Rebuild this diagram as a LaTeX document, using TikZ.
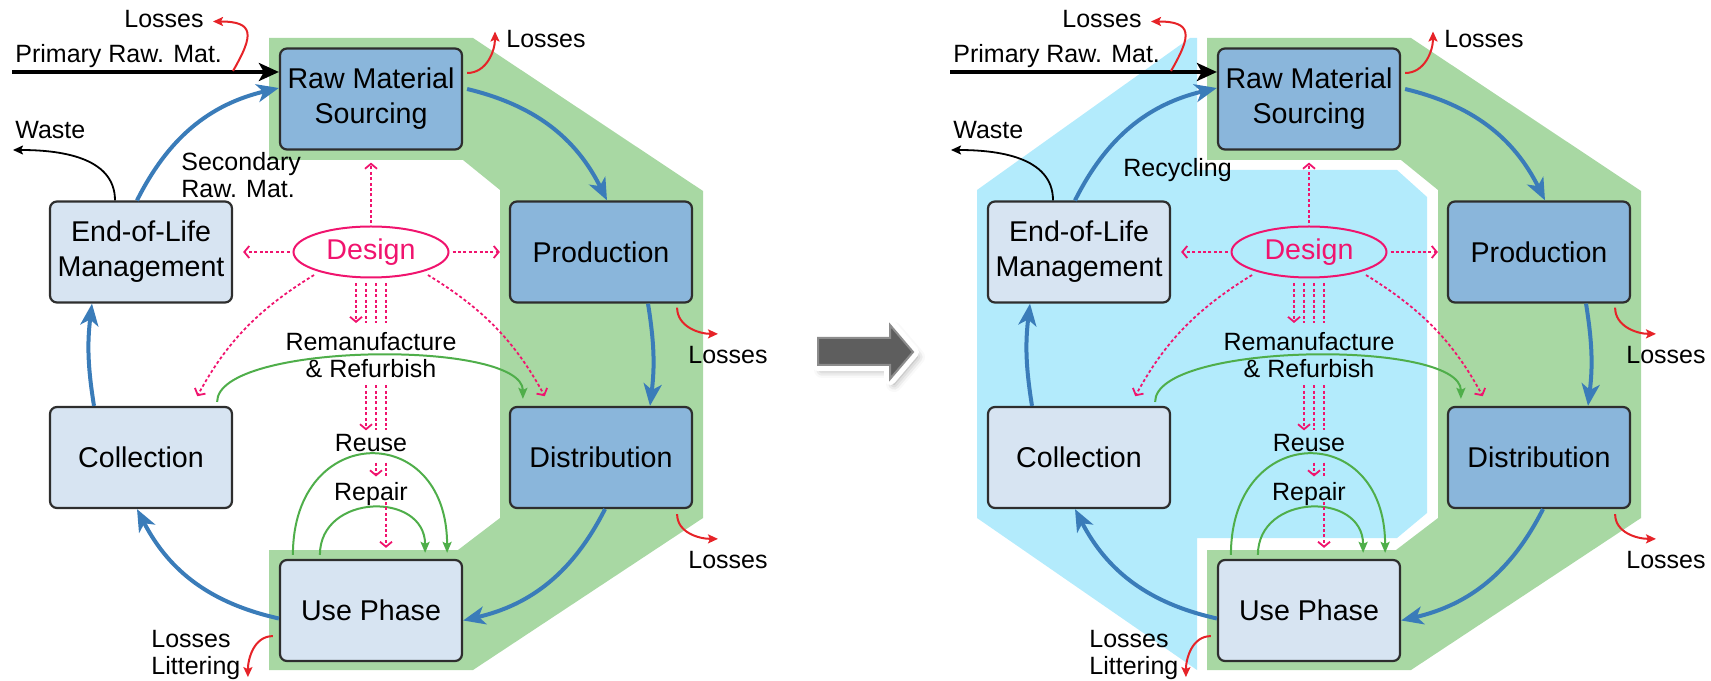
\documentclass[tikz,border=0pt]{standalone}
\usepackage{fontspec}
\setmainfont{Liberation Sans}
\usepackage{xcolor}
\usetikzlibrary{arrows.meta}
\usetikzlibrary{shapes.geometric, shadows.blur}

\definecolor{ringgreen}{HTML}{A8D8A3}
\definecolor{loopcyan}{HTML}{B3EBFC}
\definecolor{stageblue}{HTML}{8AB6DB}
\definecolor{stagelight}{HTML}{D7E4F2}
\definecolor{edgegray}{HTML}{2E2E2E}
\definecolor{flowblue}{HTML}{3A7CB9}
\definecolor{lossred}{HTML}{E62328}
\definecolor{loopgreen}{HTML}{4FAE4A}
\definecolor{designpink}{HTML}{F0146E}
\definecolor{arrowgray}{HTML}{5E5E5E}
\definecolor{arrowrim}{HTML}{8C8C8C}

\newcommand{\stagefont}{\fontsize{14.3}{17.5}\selectfont}
\newcommand{\tagfont}{\fontsize{12.5}{13.5}\selectfont}

\begin{document}
\begin{tikzpicture}[x=0.5pt, y=0.5pt]
	\tikzset{
		stage/.style={rectangle, draw=edgegray, line width=1.1pt, rounded corners=3.5pt, minimum width=91pt, minimum height=50.5pt, align=center, font=\stagefont},
		makestage/.style={stage, fill=stageblue},
		usestage/.style={stage, fill=stagelight},
		designnode/.style={ellipse, draw=designpink, line width=1pt, text=designpink, minimum width=77.5pt, minimum height=25.5pt, inner sep=0pt, font=\stagefont},
		tag/.style={inner sep=1pt, align=center, font=\tagfont},
		flow/.style={draw=flowblue, line width=2pt, -{Stealth[length=11pt, width=9pt, inset=3pt]}},
		feed/.style={draw=black, line width=2pt, -{Stealth[length=10pt, width=9pt, inset=2.5pt]}},
		spill/.style={draw=black, line width=0.9pt, -{Stealth[length=5pt, width=4.5pt, inset=1pt]}},
		loss/.style={draw=lossred, line width=1pt, -{Stealth[length=5pt, width=4.5pt, inset=1pt]}},
		reloop/.style={draw=loopgreen, line width=1pt, -{Stealth[length=5.5pt, width=4.5pt, inset=1pt]}},
		hintline/.style={draw=designpink, line width=0.9pt, dash pattern=on 1.5pt off 1.2pt},
		hint/.style={hintline, -{Straight Barb[length=2.5pt, width=6pt]}}
	}
	\useasboundingbox (0,0) rectangle (1711,680);

	% Circular part behind the right-hand cycle
	\fill[loopcyan] (1190,642) -- (1197,642) -- (1197,510) -- (1397,510) -- (1427,483) -- (1427,167)
		-- (1397,142) -- (1197,142) -- (1197,10) -- (977,162) -- (977,490) -- cycle;

	% Transition arrow between both cycles
	\path[fill=arrowgray, draw=arrowrim, line width=1pt,
		preaction={draw=white, line width=6pt, line join=round,
			blur shadow={shadow xshift=2pt, shadow yshift=-2.5pt, shadow blur radius=4pt}}]
		(818,342) -- (890,342) -- (890,355) -- (913,328) -- (890,301) -- (890,315) -- (818,315) -- cycle;

	\foreach \p/\dx in {a/0, b/938} {
	\begin{scope}[shift={(\dx,0)}]
		% Linear part of the life cycle
		\fill[ringgreen] (269,642) -- (473,642) -- (703,489) -- (703,162) -- (473,10) -- (269,10) -- (269,130)
			-- (458,130) -- (500,162) -- (500,490) -- (463,520) -- (269,520) -- cycle;

		% Life cycle stages
		\node[makestage] (raw\p) at (371,581) {Raw Material\\Sourcing};
		\node[makestage] (prod\p) at (601,428) {Production};
		\node[makestage] (dist\p) at (601,222.5) {Distribution};
		\node[usestage] (use\p) at (371,69.5) {Use Phase};
		\node[usestage] (coll\p) at (141,222.5) {Collection};
		\node[usestage] (eol\p) at (141,428) {End-of-Life\\Management};

		% Design and its strategies
		\node[designnode] (design\p) at (371,428) {Design};
		\node[tag, anchor=north] (reman\p) at (371,350) {Remanufacture\\\& Refurbish};
		\node[tag, anchor=base] (reuse\p) at (371,228) {Reuse};
		\node[tag, anchor=base] (repair\p) at (371,180) {Repair};

		% Material flows
		\draw[flow] ([xshift=-2pt]eol\p.north) to[bend left=25] ([yshift=5.5pt]raw\p.west);
		\draw[flow] ([xshift=2pt, yshift=5pt]raw\p.east) to[bend left=25] ([xshift=3pt]prod\p.north);
		\draw[flow] ([xshift=23.5pt]prod\p.south) to[bend left=8] ([xshift=24.5pt]dist\p.north);
		\draw[flow] ([xshift=2pt]dist\p.south) to[bend left=25] ([yshift=-5pt]use\p.east);
		\draw[flow] ([yshift=-4pt]use\p.west) to[bend left=25] ([xshift=-2pt]coll\p.south);
		\draw[flow] ([xshift=-23.5pt]coll\p.north) to[bend left=8] ([xshift=-24.5pt]eol\p.south);

		% Inner loops
		\draw[reloop] ([xshift=-8pt, yshift=2pt]coll\p.north east) to[out=90, in=90, looseness=0.5] ([xshift=7pt, yshift=3.5pt]dist\p.north west);
		\draw[reloop] ([xshift=7pt, yshift=2pt]use\p.north west) to[out=90, in=90, looseness=2.2] ([xshift=-8pt, yshift=3pt]use\p.north east);
		\draw[reloop] ([xshift=20.5pt, yshift=2pt]use\p.north west) to[out=90, in=90, looseness=1.5] ([xshift=-19pt, yshift=3pt]use\p.north east);

		% Inputs, losses and waste
		\node[tag, anchor=base west] (primary\p) at (13,617) {Primary Raw. Mat.};
		\coordinate (mine\p) at (12,608);
		\draw[feed] (mine\p) -- (mine\p -| raw\p.west);

		\node[tag, anchor=east] (lossin\p) at (206,660.5) {Losses};
		\coordinate (leak\p) at (233,609);
		\draw[loss] (leak\p) to[out=60, in=0, looseness=2] ([xshift=3.5pt, yshift=-1pt]lossin\p.east);

		\node[tag, anchor=west] (lossraw\p) at (504,640.5) {Losses};
		\draw[loss] ([xshift=2pt, yshift=13pt]raw\p.east) to[out=0, in=-90] ([xshift=-4.5pt, yshift=4pt]lossraw\p.west);

		\node[tag] (lossprod\p) at (728,325) {Losses};
		\draw[loss] ([xshift=-8pt, yshift=-2pt]prod\p.south east) to[out=-90, in=180] ([xshift=-5pt, yshift=5pt]lossprod\p.north);

		\node[tag] (lossdist\p) at (728,120) {Losses};
		\draw[loss] ([xshift=-8pt, yshift=-2.5pt]dist\p.south east) to[out=-90, in=180] ([xshift=-5pt, yshift=5pt]lossdist\p.north);

		\node[tag, anchor=north west, align=left] (lossuse\p) at (149,52) {Losses\\Littering};
		\draw[loss] ([xshift=-3pt, yshift=13pt]use\p.south west) to[out=180, in=90] ([xshift=-15.5pt, yshift=-7.5pt]use\p.south west);

		\node[tag, anchor=base west] (waste\p) at (13,541) {Waste};
		\draw[spill] ([xshift=-13pt]eol\p.north) to[out=90, in=0] ([yshift=-5.5pt]waste\p.base west);

		% Design for circularity
		\draw[hint, shorten <=1pt, shorten >=6pt] (design\p.north) -- (raw\p.south);
		\draw[hint, shorten <=1.5pt, shorten >=5pt] (design\p.west) -- (eol\p.east);
		\draw[hint, shorten <=1.5pt, shorten >=4.5pt] (design\p.east) -- (prod\p.west);
		\draw[hint, shorten <=3pt, shorten >=5.5pt] (design\p.-159) to[bend right=15] ([xshift=25.5pt]coll\p.north);
		\draw[hint, shorten <=3pt, shorten >=5.5pt] (design\p.-21) to[bend left=15] ([xshift=-25.5pt]dist\p.north);

		% Strategies stacked below design
		\draw[hint, shorten <=2.5pt, shorten >=3.5pt] ([xshift=-7.5pt]design\p.south) -- ([xshift=-7.5pt]reman\p.north);
		\foreach \lx in {-2.5,2.5,7.5}
			\draw[hintline, shorten <=2.5pt, shorten >=3.5pt] ([xshift=\lx pt]design\p.south) -- ([xshift=\lx pt]reman\p.north);
		\draw[hint, shorten <=2.5pt, shorten >=1pt] ([xshift=-2.5pt]reman\p.south) -- ([xshift=-2.5pt]reuse\p.north);
		\foreach \lx in {2.5,7.5}
			\draw[hintline, shorten <=2.5pt, shorten >=1pt] ([xshift=\lx pt]reman\p.south) -- ([xshift=\lx pt]reuse\p.north);
		\draw[hint, shorten <=4pt, shorten >=1.5pt] ([xshift=2.5pt]reuse\p.south) -- ([xshift=2.5pt]repair\p.north);
		\draw[hintline, shorten <=4pt, shorten >=1.5pt] ([xshift=7.5pt]reuse\p.south) -- ([xshift=7.5pt]repair\p.north);
		\draw[hint, shorten <=1pt, shorten >=5.5pt] ([xshift=7.5pt]repair\p.base) -- ([xshift=7.5pt]use\p.north);
	\end{scope}
	}

	% Labels of the return flow into sourcing
	\node[tag, anchor=north west, align=left] (secondary) at (179,530) {Secondary\\Raw. Mat.};
	\node[tag, anchor=north west] (recycling) at (1121,524) {Recycling};
\end{tikzpicture}
\end{document}
